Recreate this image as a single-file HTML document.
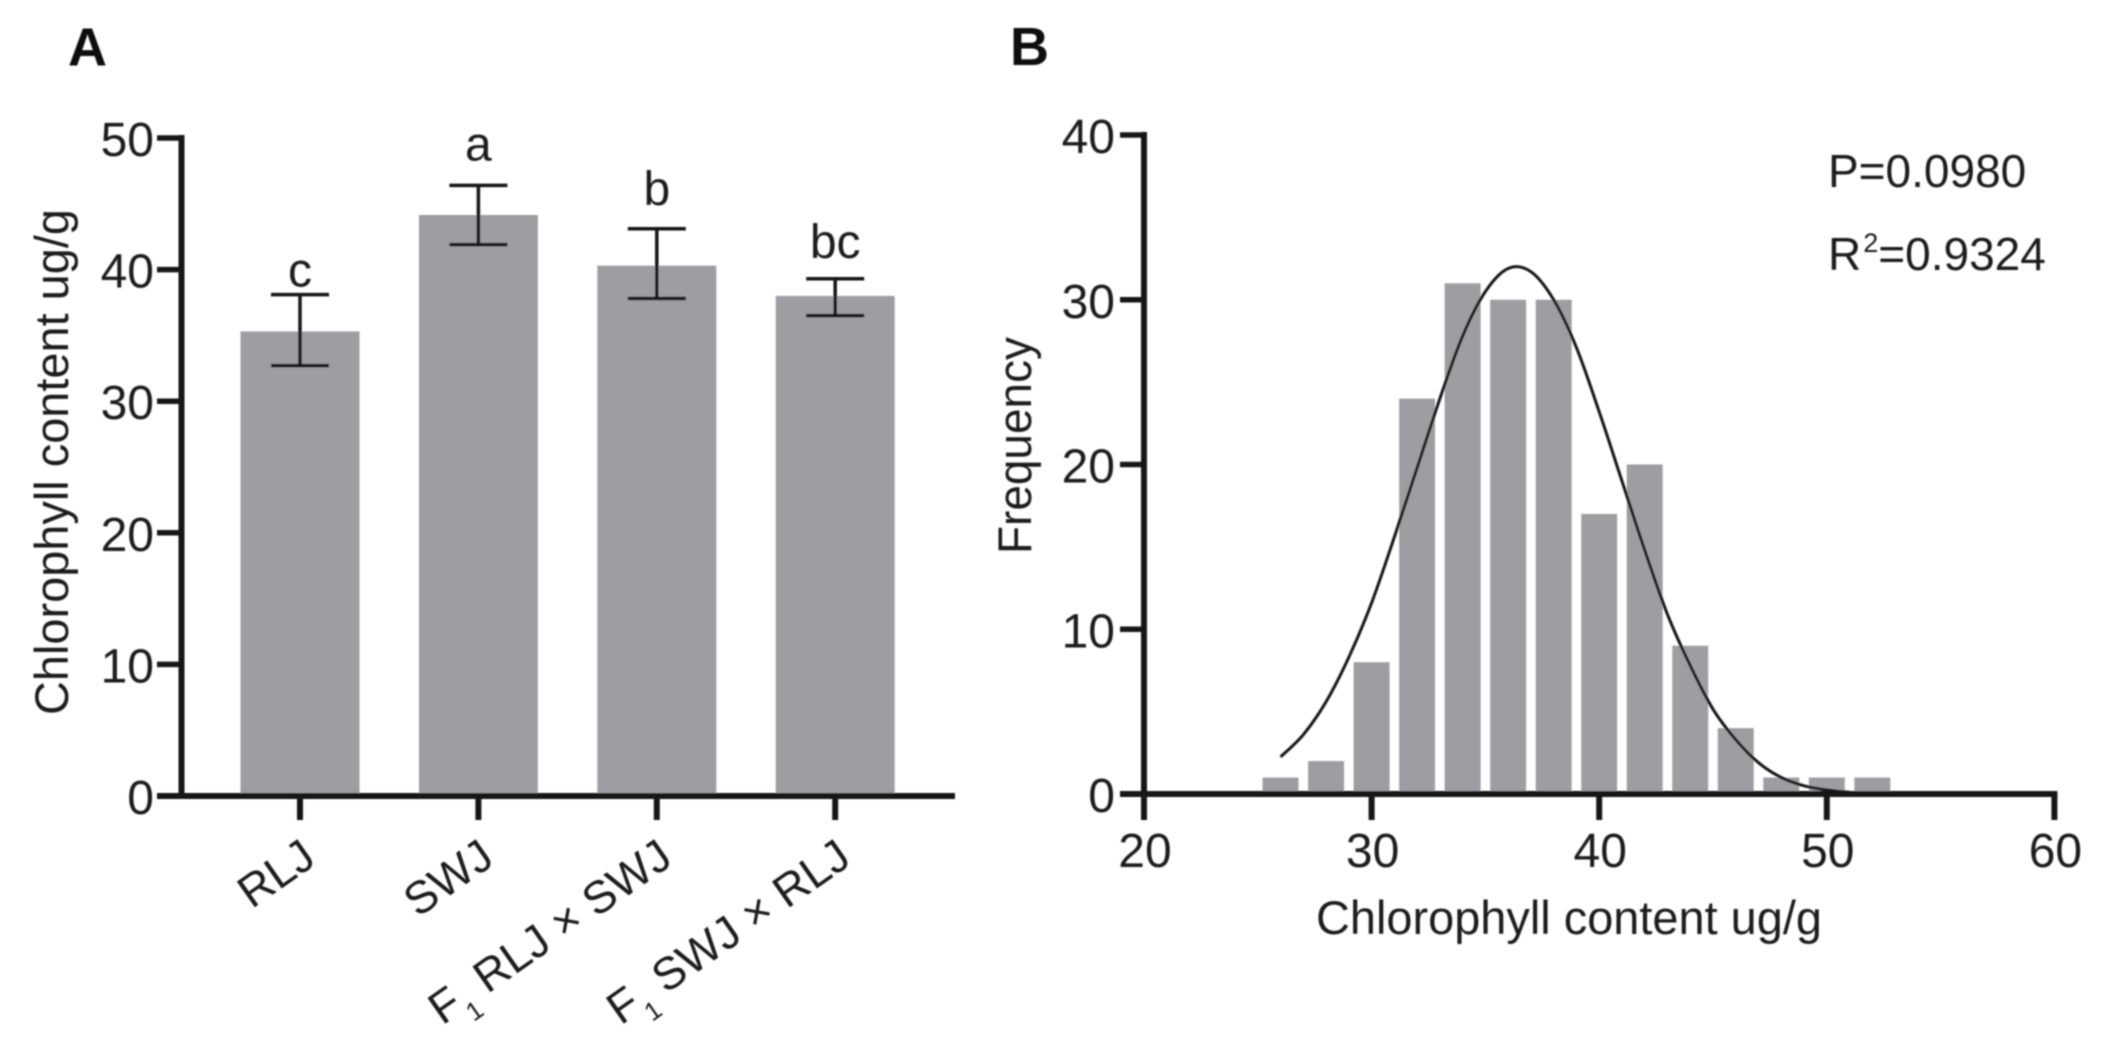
<!DOCTYPE html>
<html lang="en">
<head>
<meta charset="utf-8">
<title>Chlorophyll content charts</title>
<style>
  html, body { margin: 0; padding: 0; background: #fff; }
  body { width: 2106px; height: 1040px; overflow: hidden; }
  svg { display: block; }
  text { font-family: "Liberation Sans", Arial, sans-serif; fill: #1e1e1e; font-size: 48px; }
</style>
</head>
<body>
<svg id="figure" xmlns="http://www.w3.org/2000/svg" width="2106" height="1040" viewBox="0 0 2106 1040">
  <defs>
    <filter id="soft" x="-5%" y="-5%" width="110%" height="110%"><feGaussianBlur stdDeviation="0.7"/></filter>
  </defs>
  <g filter="url(#soft)">
    <g id="panelA">
      <text x="68" y="65.5" style="font-weight:bold;font-size:54px;fill:#111">A</text>
      <text transform="translate(68,715) rotate(-90)" textLength="506" lengthAdjust="spacingAndGlyphs" style="font-size:47px">Chlorophyll content ug/g</text>
    </g>
    <g id="panelB">
      <text x="1010" y="65" style="font-weight:bold;font-size:54px;fill:#111">B</text>
      <text transform="translate(1031,554) rotate(-90)" textLength="217" lengthAdjust="spacingAndGlyphs" style="font-size:47px">Frequency</text>
      <text x="1316" y="934" textLength="506" lengthAdjust="spacingAndGlyphs" style="font-size:47px">Chlorophyll content ug/g</text>
      <text x="1828" y="187" style="font-size:46px">P=0.0980</text>
      <text x="1828" y="270" style="font-size:46px">R<tspan dx="2" dy="-18" style="font-size:27px">2</tspan><tspan dy="18">=0.9324</tspan></text>
    </g>
  </g>
</svg>
<script>
// Panel A data
const barCategories = ['RLJ', 'SWJ', 'F1 RLJ × SWJ', 'F1 SWJ × RLJ'];
const barValues = [35.3, 44.15, 40.3, 38.0];
const barErrorHigh = [38.1, 46.4, 43.1, 39.3];
const barErrorLow = [32.7, 41.9, 37.8, 36.5];
const barLetters = ['c', 'a', 'b', 'bc'];
const barLetterLevels = [38.7, 48.3, 44.9, 40.9];
const barTicks = [0, 10, 20, 30, 40, 50];

// Panel B data
const histCenters = [26, 28, 30, 32, 34, 36, 38, 40, 42, 44, 46, 48, 50, 52];
const histCounts = [1, 2, 8, 24, 31, 30, 30, 17, 20, 9, 4, 1, 1, 1];
const histYTicks = [0, 10, 20, 30, 40];
const histXTicks = [20, 30, 40, 50, 60];
const curveX = [26, 27, 28, 29, 30, 31, 32, 33, 34, 35, 36, 37, 38, 39, 40, 41, 42, 43, 44, 45, 46, 47, 48, 49, 50, 51];
const curveY = [2.25, 3.6, 5.6, 8.3, 11.6, 15.6, 19.8, 24, 27.8, 30.5, 31.9, 31.7, 30, 27.1, 23.2, 19, 14.8, 10.9, 7.8, 5.15, 3.3, 1.9, 1.0, 0.5, 0.25, 0.1];

const SVGNS = 'http://www.w3.org/2000/svg';
const AXIS = '#171717';
const BAR = '#9e9ea2';

function make(parent, tag, attrs, text) {
  const el = document.createElementNS(SVGNS, tag);
  for (const k in attrs) el.setAttribute(k, attrs[k]);
  if (text !== undefined) el.textContent = text;
  parent.appendChild(el);
  return el;
}
function line(parent, x1, y1, x2, y2, w) {
  return make(parent, 'line', { x1, y1, x2, y2, stroke: AXIS, 'stroke-width': w });
}

// ---------- Panel A ----------
const pa = document.getElementById('panelA');
const ax = v => 300 + v * 178.4;
const ay = v => 796 - v * 13.16;
const barHalf = 59.5;
const capHalf = 29;

barValues.forEach((v, i) => {
  const r = make(pa, 'rect', { x: ax(i) - barHalf, y: ay(v), width: barHalf * 2, height: ay(0) - ay(v), fill: BAR });
  
  
});
barValues.forEach((v, i) => {
  const g = make(pa, 'g', {});
  
  
  line(g, ax(i), ay(barErrorHigh[i]), ax(i), ay(barErrorLow[i]), 3.5);
  line(g, ax(i) - capHalf, ay(barErrorHigh[i]), ax(i) + capHalf, ay(barErrorHigh[i]), 3.5);
  line(g, ax(i) - capHalf, ay(barErrorLow[i]), ax(i) + capHalf, ay(barErrorLow[i]), 3.5);
  const t = make(pa, 'text', { x: ax(i), y: ay(barLetterLevels[i]), 'text-anchor': 'middle' }, barLetters[i]);
  
  
});

const aYAxis = line(pa, 181.5, ay(50) - 3, 181.5, ay(0) + 3, 6);


const aXAxis = line(pa, 157, ay(0), 955, ay(0), 6);



barTicks.forEach(v => {
  const tk = line(pa, 157, ay(v), 182, ay(v), 5.5);
  
  
  const lb = make(pa, 'text', { x: 154, y: ay(v) + 18, 'text-anchor': 'end' }, String(v));
  
  
});

barCategories.forEach((c, i) => {
  const tk = line(pa, ax(i), ay(0), ax(i), 820, 6);
  
  
  const t = make(pa, 'text', { transform: 'translate(' + (ax(i) + 18) + ',863) rotate(-35)', 'text-anchor': 'end', style: 'font-size:45.5px' });
  
  
  if (c.startsWith('F1')) {
    make(t, 'tspan', {}, 'F');
    make(t, 'tspan', { dy: 15, style: 'font-size:26px' }, '1');
    make(t, 'tspan', { dy: -15 }, ' ' + c.slice(3));
  } else {
    t.textContent = c;
  }
});

// ---------- Panel B ----------
const pb = document.getElementById('panelB');
const bx = v => 1144 + (v - 20) * 22.76;
const by = v => 794 - v * 16.475;
const histW = 1.58;

histCounts.forEach((n, i) => {
  const r = make(pb, 'rect', {
    x: bx(histCenters[i] - histW / 2), y: by(n),
    width: bx(histW) - bx(0), height: by(0) - by(n), fill: BAR
  });
  
  
});

// Smooth fit curve through the read points (Catmull-Rom to Bezier)
const pts = curveX.map((x, i) => [bx(x), by(curveY[i])]);
let d = 'M' + pts[0][0] + ' ' + pts[0][1];
for (let i = 0; i < pts.length - 1; i++) {
  const p0 = pts[Math.max(0, i - 1)], p1 = pts[i], p2 = pts[i + 1], p3 = pts[Math.min(pts.length - 1, i + 2)];
  d += ' C' + (p1[0] + (p2[0] - p0[0]) / 6) + ' ' + (p1[1] + (p2[1] - p0[1]) / 6) + ' ' +
       (p2[0] - (p3[0] - p1[0]) / 6) + ' ' + (p2[1] - (p3[1] - p1[1]) / 6) + ' ' + p2[0] + ' ' + p2[1];
}
const curve = make(pb, 'path', { d, fill: 'none', stroke: '#171717', 'stroke-width': 3 });



const bYAxis = line(pb, bx(20), by(40) - 3, bx(20), 820, 6);


const bXAxis = line(pb, 1120, by(0), bx(60) + 3, by(0), 6);



histYTicks.forEach(v => {
  const tk = line(pb, 1120, by(v), bx(20), by(v), 5.5);
  
  
  const lb = make(pb, 'text', { x: 1115, y: by(v) + 18, 'text-anchor': 'end' }, String(v));
  
  
});
histXTicks.forEach(v => {
  const tk = line(pb, bx(v), by(0), bx(v), 820, 6);
  
  
  const lb = make(pb, 'text', { x: bx(v) + 1, y: 867, 'text-anchor': 'middle' }, String(v));
  
  
});
</script>
</body>
</html>
